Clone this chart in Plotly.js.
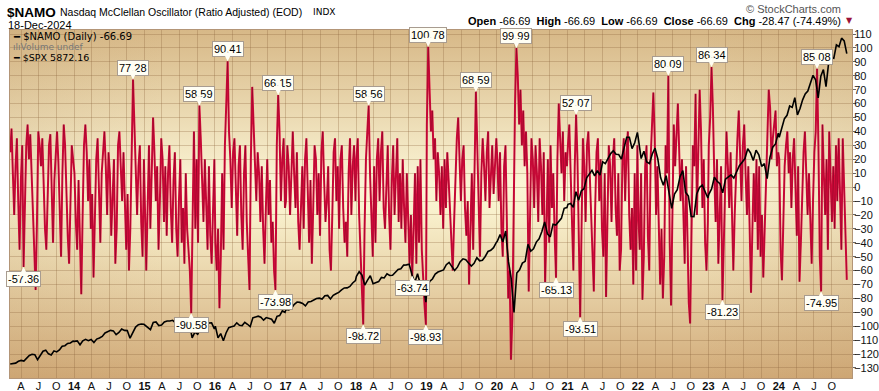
<!DOCTYPE html>
<html><head><meta charset="utf-8">
<script src="https://cdn.plot.ly/plotly-3.0.1.min.js"></script>
<style>html,body{margin:0;padding:0;background:#fff;}#chart{width:879px;height:391px;}</style>
</head><body><div id="chart"></div>
<script>
// ---- sampling periods (one per calendar year of data) ----
const periodStart = ['2013-02-04','2014-01-03','2015-01-03','2016-01-03','2017-01-03','2018-01-03','2019-01-03','2020-01-03','2021-01-03','2022-01-03','2023-01-03','2024-01-03'];
const periodEnd   = ['2013-12-27','2014-12-29','2015-12-29','2016-12-29','2017-12-29','2018-12-29','2019-12-29','2020-12-29','2021-12-29','2022-12-29','2023-12-29','2024-12-18'];

// ---- $NAMO (weekly readings) ----
const namo2013 = [25,42,10,-20,15,35,-10,-45,5,30,-57.36,-20,30,45,20,38,10,-30,-55,-74,-25,40,30,15,35,-5,-30,-45,-10,30,38,-15,-40,5,25,40,18,-20,-50,10,45,30,-10,-35,-55,-5,30,20];
const namo2014 = [10,-25,-45,5,-40,-77,-20,30,45,25,-10,20,-30,-5,-65,-25,20,35,-15,-40,10,30,40,15,-20,25,10,-35,-10,20,-55,-30,30,40,15,-10,25,-20,-45,-5,-60,-30,40,77.28,45,10,-20,15,30,-25,-50,20];
const namo2015 = [-20,-60,-15,30,-30,20,50,25,-10,15,-45,-10,35,20,-25,15,-35,10,30,-15,-40,5,25,-30,-50,-10,20,-40,-15,-55,10,-30,-45,-60,-90.58,-20,40,-30,20,-40,58.59,35,10,-25,20,-20,-45,15,-35,-55,-10,20];
const namo2016 = [-40,-60,-30,-87,-50,10,-45,30,60,90.41,40,20,-15,25,35,-10,-35,15,30,-20,-45,10,30,-25,-50,-74,20,72,45,15,-10,25,10,-25,15,-30,-55,-15,20,-20,5,-40,-25,-60,-73.98,30,66.15,40,-10,20,35,-15];
const namo2017 = [-10,30,15,-20,20,40,10,-15,25,-25,-45,-10,15,-30,20,35,-10,-40,5,-55,-15,30,20,-20,10,-35,25,40,5,-25,-10,15,-45,-60,-20,25,35,-10,15,-30,20,30,-15,-40,-25,-50,10,35,-20,15,30,-10];
const namo2018 = [20,35,-20,-45,-75,-98.72,-30,20,40,58.56,10,-25,-50,15,-40,20,35,-10,25,40,-15,-30,10,30,-20,-45,5,30,-20,15,35,-25,10,-30,20,-15,-40,10,-30,-55,-20,-63.74,-30,10,-55,15,-40,20,-45,-70,-85,-98.93];
const namo2019 = [45,100.78,75,40,55,20,35,-10,25,10,-20,15,-30,20,-15,25,5,-20,-35,-60,-25,10,35,50,25,-10,20,30,-15,-35,-10,-70,-30,10,-45,20,68.59,30,-20,-50,10,35,15,-10,25,40,-15,10,30,-5,20,35];
const namo2020 = [20,-10,25,-30,-50,15,30,-20,-80,-60,-124,-95,10,60,99.99,80,45,70,30,55,15,40,10,-75,-20,35,20,-15,30,10,-25,35,15,-20,25,-70,-30,20,-40,30,-15,10,-35,-65.13,20,60,35,10,40,-10,25,15];
const namo2021 = [30,45,10,-30,-60,15,52.07,20,-40,-93.51,-30,35,15,-25,30,40,10,-20,-45,-75,-15,25,35,-10,20,-30,-50,10,-79,-20,30,15,-25,20,35,-15,-35,10,-60,-45,20,35,-10,25,40,-20,-45,-15,-70,10,-60,30];
const namo2022 = [-20,-45,10,-81,-50,15,30,-35,-60,20,40,68,35,-20,15,-40,-70,-30,-80,-50,30,10,80.09,-40,-85,-20,45,15,35,60,25,-10,20,-30,-55,15,-35,-83,-98,-40,30,15,67,-20,25,70,40,-15,20,-40,-60,-25];
const namo2023 = [30,50,86.34,57,10,-25,20,-55,-20,15,-81.23,-40,20,40,15,-15,25,-30,-60,-20,15,35,55,20,-10,30,45,10,-20,15,-40,-76,-30,10,-25,20,-45,15,-50,-20,-65,-35,10,40,70,57,20,35,45,55,15,25];
const namo2024 = [20,-45,-67,-20,15,30,40,10,25,-15,20,35,-10,-35,15,-68,-40,5,25,40,15,-20,10,-30,-55,-10,25,40,85.08,30,-50,-74.95,45,10,-20,20,-45,40,10,-25,15,-30,30,-10,35,-20,-45,35,0,-38.22,-66.69];

// ---- $SPX (bi-weekly closes) ----
const spx2013 = [1513,1520,1525,1550,1563,1553,1593,1633,1650,1643,1573,1640,1692,1707,1655,1640,1697,1682,1710,1762,1770,1802,1808,1833];
const spx2014 = [1831,1838,1782,1838,1859,1841,1857,1815,1863,1878,1900,1949,1962,1985,1978,1925,1955,2003,1985,1982,1875,1964,2032,2064,2075,2070];
const spx2015 = [2058,2019,1995,2097,2104,2053,2061,2102,2117,2116,2126,2092,2110,2077,2127,2104,2092,1880,1961,1931,2014,2075,2099,2089,2091,2005];
const spx2016 = [2044,1880,1940,1840,1948,2022,2035,2047,2091,2057,2052,2099,2071,2037,2161,2173,2184,2169,2128,2165,2153,2141,2085,2182,2192,2258,2239];
const spx2017 = [2277,2271,2297,2351,2383,2378,2363,2329,2384,2390,2416,2432,2438,2425,2472,2476,2426,2477,2500,2519,2553,2581,2582,2602,2651,2683];
const spx2018 = [2743,2810,2762,2620,2691,2752,2641,2656,2670,2728,2721,2779,2755,2759,2802,2840,2850,2902,2905,2914,2767,2659,2781,2633,2633,2380];
const spx2019 = [2532,2671,2707,2776,2804,2822,2834,2907,2940,2881,2826,2873,2950,2990,2977,2932,2889,2926,3007,2962,2970,3023,3093,3110,3146,3221];
const spx2020 = [3235,3330,3226,3380,2954,2711,2237,2790,2837,2930,2955,3194,3098,3130,3225,3271,3373,3508,3341,3298,3477,3465,3510,3558,3699,3709];
const spx2021 = [3756,3768,3714,3934,3811,3943,3975,4129,4180,4232,4156,4230,4166,4352,4327,4395,4468,4509,4459,4455,4391,4545,4697,4698,4538,4620,4766];
const spx2022 = [4677,4398,4500,4349,4329,4463,4545,4392,4132,4023,4158,3901,3700,3899,3962,4145,4228,3924,3873,3586,3583,3901,3993,4026,3934,3845];
const spx2023 = [3895,3972,4136,4079,4046,3917,4109,4137,4169,4124,4205,4299,4348,4399,4536,4478,4370,4516,4450,4288,4327,4117,4415,4559,4604,4755];
const spx2024 = [4697,4840,4959,5006,5137,5117,5254,5011,5100,5223,5305,5347,5465,5567,5505,5250,5554,5648,5408,5738,5815,5808,5996,5969,6090,6051,5872];

// ---- labelled swing values ----
const labelHighs = [77.28,58.59,90.41,66.15,58.56,100.78,68.59,99.99,52.07,80.09,86.34,85.08];
const labelLows  = [-57.36,-90.58,-73.98,-98.72,-63.74,-98.93,-65.13,-93.51,-81.23,-74.95];

// ---- axis tick labels ----
const tickYears = [2013,2014,2015,2016,2017,2018,2019,2020,2021,2022,2023,2024];
const quarterLetters = ['A','J','O'];

const namoByYear = [namo2013,namo2014,namo2015,namo2016,namo2017,namo2018,namo2019,namo2020,namo2021,namo2022,namo2023,namo2024];
const spxByYear  = [spx2013,spx2014,spx2015,spx2016,spx2017,spx2018,spx2019,spx2020,spx2021,spx2022,spx2023,spx2024];

function spread(groups){
  const xs=[], ys=[];
  groups.forEach((vals,k)=>{
    const t0=Date.parse(periodStart[k]+'T00:00:00Z'), t1=Date.parse(periodEnd[k]+'T00:00:00Z');
    vals.forEach((v,i)=>{
      const t=t0+i*(t1-t0)/(vals.length-1);
      xs.push(new Date(t).toISOString().slice(0,16).replace('T',' '));
      ys.push(v);
    });
  });
  return {xs,ys};
}
const namo = spread(namoByYear);
const spx  = spread(spxByYear);

// ticks
const tickvals=[], ticktext=[];
tickYears.forEach(y=>{
  if(y>tickYears[0]){tickvals.push(y+'-01-01'); ticktext.push('<b>'+String(y).slice(2)+'</b>');}
  ['04','07','10'].forEach((m,j)=>{tickvals.push(y+'-'+m+'-01'); ticktext.push(quarterLetters[j]);});
});

const L=10,R=852,T=30,B=378;

// background gradient for plot area
function bgImage(){
  const w=R-L,h=B-T;
  const c=document.createElement('canvas'); c.width=w; c.height=h;
  const g=c.getContext('2d');
  const lg=g.createLinearGradient(0,0,0,h);
  lg.addColorStop(0,'#d7b887'); lg.addColorStop(0.44,'#fbf5d5'); lg.addColorStop(0.52,'#f9f1cd'); lg.addColorStop(1,'#d1aa78');
  g.fillStyle=lg; g.fillRect(0,0,w,h);
  const hg=g.createLinearGradient(0,0,w,0);
  hg.addColorStop(0,'rgba(185,145,95,0.16)'); hg.addColorStop(0.18,'rgba(185,145,95,0)');
  hg.addColorStop(0.82,'rgba(185,145,95,0)'); hg.addColorStop(1,'rgba(185,145,95,0.16)');
  g.fillStyle=hg; g.fillRect(0,0,w,h);
  return c.toDataURL();
}

const px=x=>(x-L)/(R-L), py=y=>(B-y)/(B-T);
const SANS='Liberation Sans, Arial, sans-serif';

const ann=[];
function txt(x,y,text,opt){ann.push(Object.assign({xref:'paper',yref:'paper',x:px(x),y:py(y),text:text,showarrow:false,xanchor:'left',yanchor:'middle',font:{family:SANS,size:11,color:'#000'}},opt||{}));}
txt(5,12,'<b>$NAMO</b>',{font:{family:SANS,size:13.5,color:'#000'}});
txt(58,12,'Nasdaq McClellan Oscillator (Ratio Adjusted) (EOD)',{font:{family:SANS,size:10.5,color:'#000'}});
txt(311,12,'INDX',{font:{family:'DejaVu Sans',size:9,color:'#000'}});
txt(6,25,'18-Dec-2024',{font:{family:SANS,size:11,color:'#000'}});
txt(843,9,'© StockCharts.com',{xanchor:'right',font:{family:SANS,size:11,color:'#555'}});
txt(843,21,'<b>Open</b> -66.69  <b>High</b> -66.69  <b>Low</b> -66.69  <b>Close</b> -66.69  <b>Chg</b> -28.47 (-74.49%)',{xanchor:'right',font:{family:SANS,size:11,color:'#000'}});
txt(844,21,'▼',{font:{family:'DejaVu Sans',size:8,color:'#9b1238'}});
txt(11,36.5,'<b>━</b> $NAMO (Daily) -66.69',{font:{family:'DejaVu Sans',size:10,color:'#000'}});
txt(11,47,'<span style="color:#777">ılı</span>Volume undef',{font:{family:'DejaVu Sans',size:9,color:'#777'}});
txt(11,57.5,'<b>━</b> $SPX 5872.16',{font:{family:'DejaVu Sans',size:9.5,color:'#000'}});

function callout(v,up){
  const i=namo.ys.indexOf(v); if(i<0) return;
  ann.push({xref:'x',yref:'y',x:namo.xs[i],y:namo.ys[i],text:v.toFixed(2),showarrow:true,
    ax:0,ay:up?-12:12,arrowhead:2,arrowsize:1.2,arrowwidth:1.5,arrowcolor:'#fffef4',standoff:0,
    bgcolor:'#fffef4',bordercolor:'#a89c90',borderwidth:1,borderpad:1,
    font:{family:SANS,size:11,color:'#000'}});
}
labelHighs.forEach(v=>callout(v,true));
labelLows.forEach(v=>callout(v,false));

const traces=[
  {x:namo.xs,y:namo.ys,type:'scatter',mode:'lines',line:{color:'#de0b3e',width:2},hoverinfo:'skip',yaxis:'y'},
  {x:namo.xs,y:namo.ys,type:'scatter',mode:'lines',line:{color:'rgba(0,0,0,0.35)',width:0.6},hoverinfo:'skip',yaxis:'y'},
  {x:spx.xs,y:spx.ys,type:'scatter',mode:'lines',line:{color:'#000',width:1.6},hoverinfo:'skip',yaxis:'y2'}
];

const grid='rgba(140,100,60,0.30)';
const layout={
  width:879,height:391,margin:{l:L,r:879-R,t:T,b:391-B},
  paper_bgcolor:'#fff',plot_bgcolor:'rgba(0,0,0,0)',showlegend:false,hovermode:false,
  xaxis:{type:'date',range:['2013-02-03','2025-01-14'],tickvals:tickvals,ticktext:ticktext,tickangle:0,
    showgrid:true,gridcolor:grid,gridwidth:1,zeroline:false,showline:true,linecolor:'#b39577',mirror:true,
    ticks:'',ticklen:0,ticklabelstandoff:-2,tickfont:{family:SANS,size:11,color:'#111'},fixedrange:true},
  yaxis:{side:'right',range:[-137.2,112.9],tickvals:[110,100,90,80,70,60,50,40,30,20,10,0,-10,-20,-30,-40,-50,-60,-70,-80,-90,-100,-110,-120,-130],
    showgrid:true,gridcolor:grid,gridwidth:1,zeroline:false,showline:true,linecolor:'#b39577',mirror:true,
    ticks:'outside',ticklen:3,tickcolor:'#666',ticklabelstandoff:-4,tickfont:{family:SANS,size:11,color:'#111'},fixedrange:true},
  yaxis2:{overlaying:'y',range:[1316,6204],visible:false,fixedrange:true},
  images:[{source:bgImage(),xref:'paper',yref:'paper',x:0,y:1,sizex:1,sizey:1,sizing:'stretch',xanchor:'left',yanchor:'top',layer:'below'}],
  annotations:ann
};
Plotly.newPlot('chart',traces,layout,{displayModeBar:false,staticPlot:true});
</script></body></html>
